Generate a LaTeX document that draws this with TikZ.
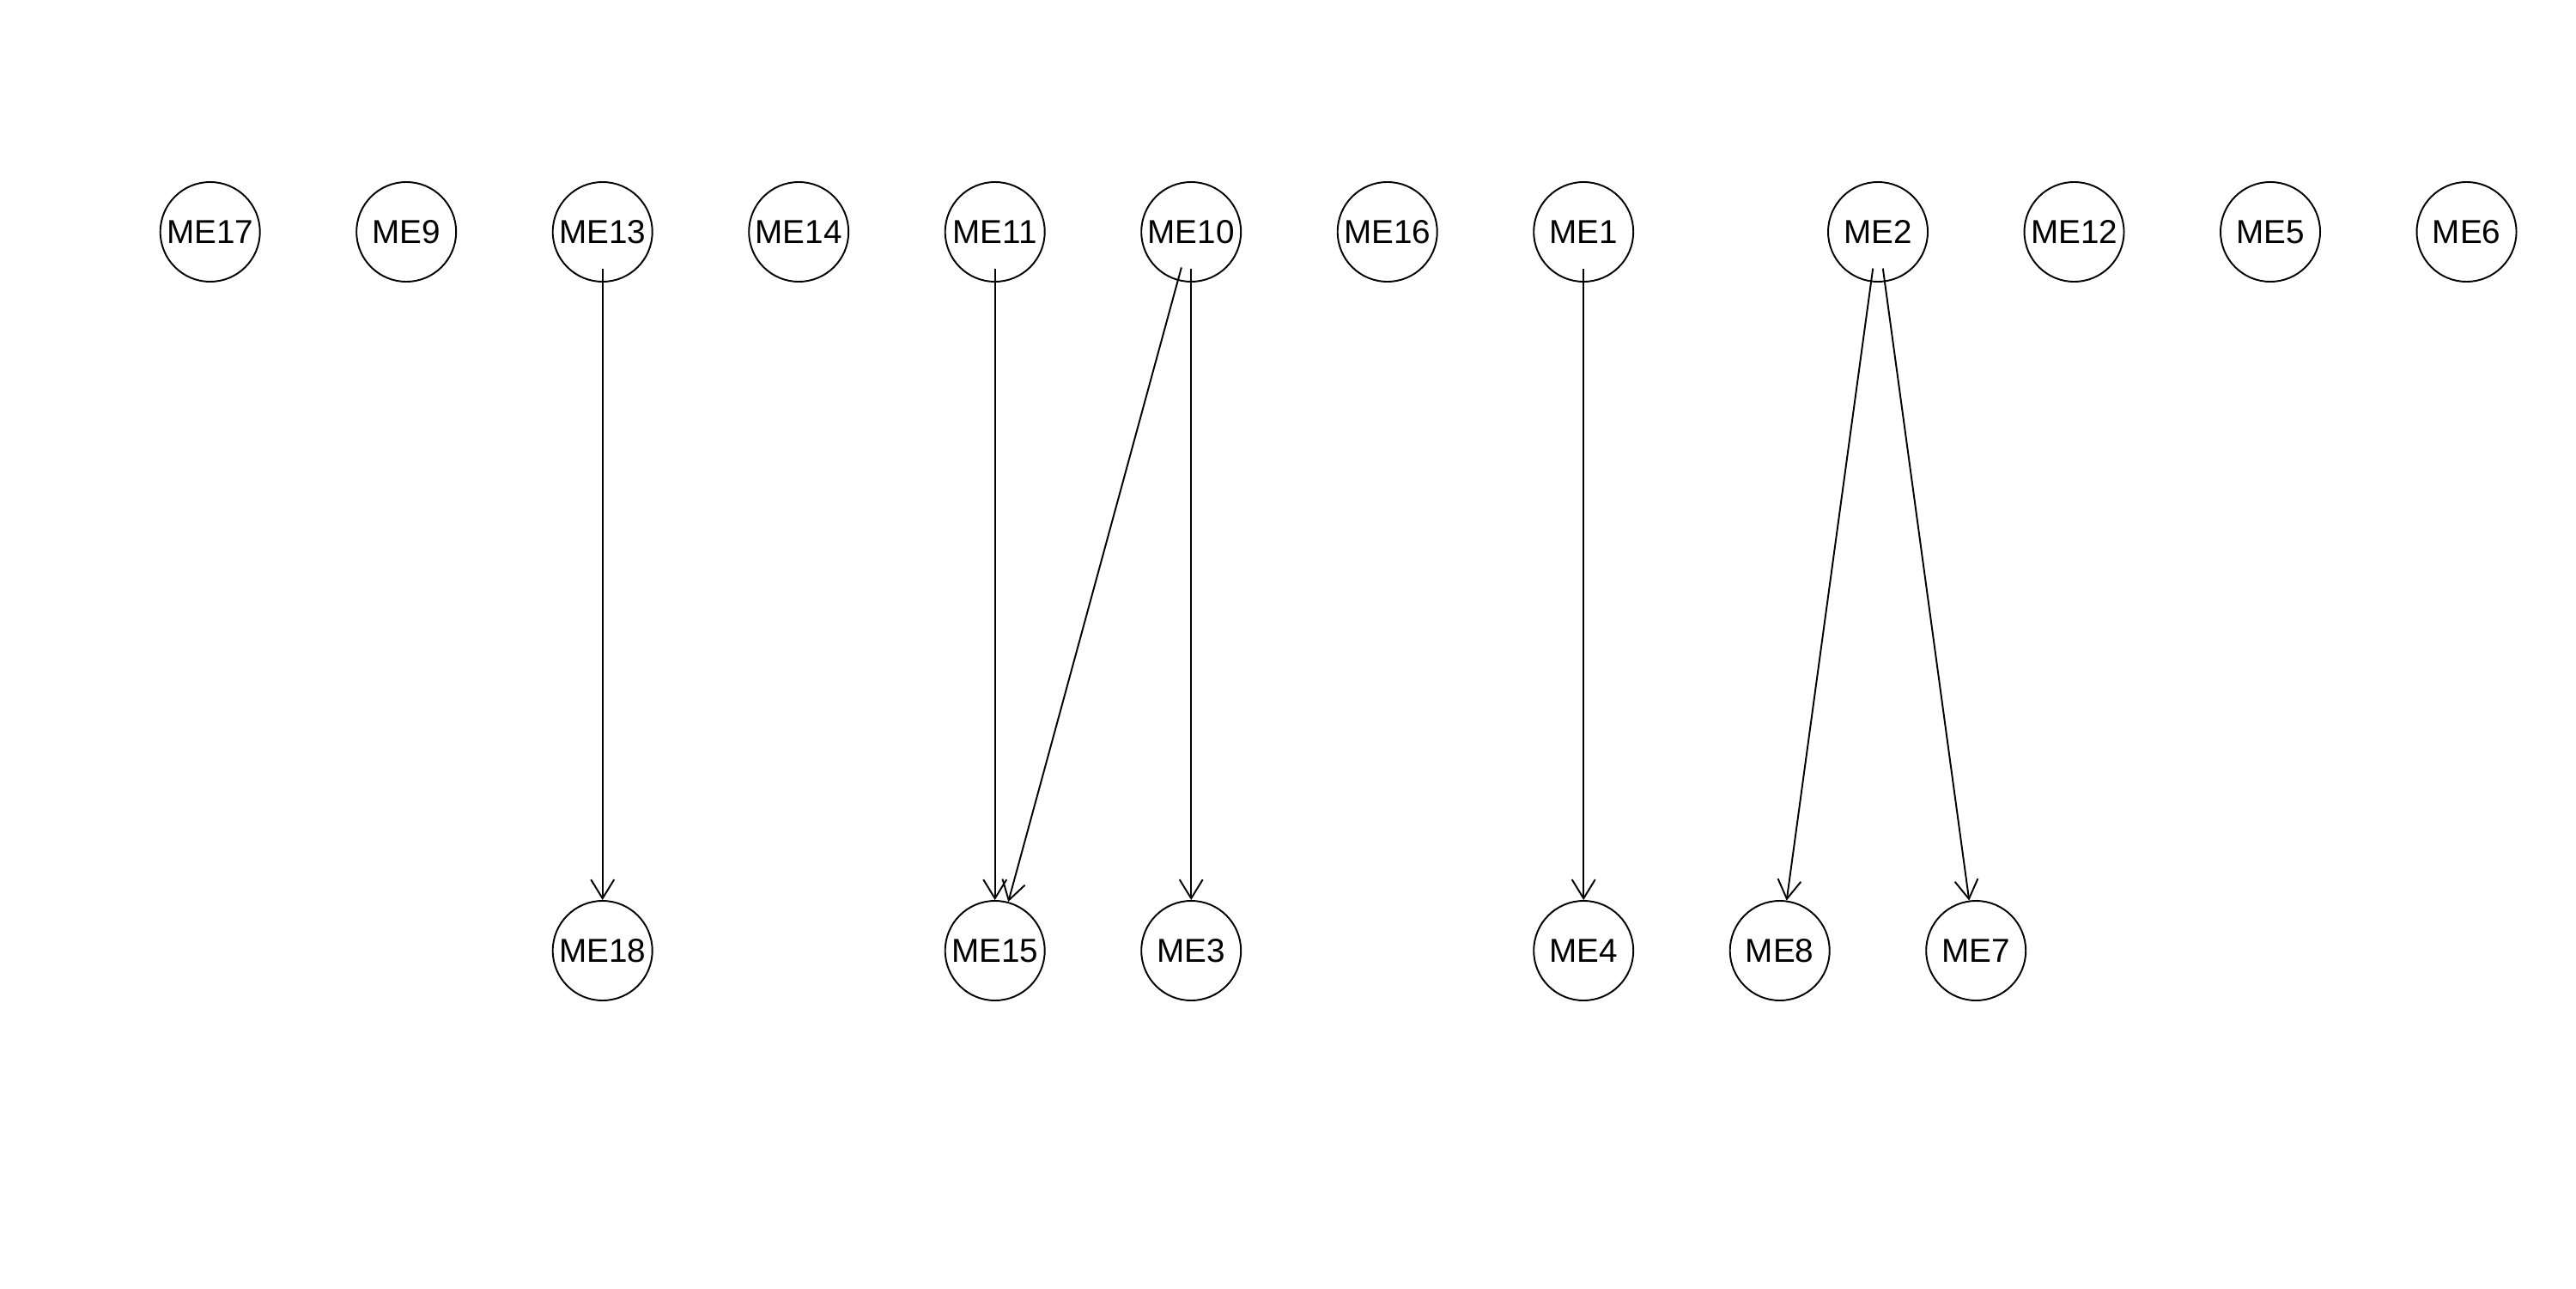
\documentclass[tikz,border=0pt]{standalone}
\usepackage{fontspec}
\setmainfont{Liberation Sans}
\usetikzlibrary{arrows.meta}
\newcommand{\newVertex}[3]{\node[vertex](#1) at (#3){#2};}
\newcommand{\newLink}[2]{\path[link] (#1) edge (#2);}

\begin{document}
\begin{tikzpicture}[
    % Vertex look
    vertex/.style={circle,draw,line width=0.55pt,minimum size=1.16cm,inner sep=0pt,
      font=\fontsize{11}{13}\selectfont},
    % Edge look
    link/.style={-{Straight Barb[length=2.2mm,width=2.7mm]},line width=0.55pt,
      shorten <=-0.16cm}
    ]
    \useasboundingbox (0,0) rectangle (30,15);

    % Upper row
    \newVertex{ME17}{ME17}{2.447,12.30}
    \newVertex{ME9}{ME9}{4.732,12.30}
    \newVertex{ME13}{ME13}{7.017,12.30}
    \newVertex{ME14}{ME14}{9.302,12.30}
    \newVertex{ME11}{ME11}{11.587,12.30}
    \newVertex{ME10}{ME10}{13.872,12.30}
    \newVertex{ME16}{ME16}{16.157,12.30}
    \newVertex{ME1}{ME1}{18.442,12.30}
    \newVertex{ME2}{ME2}{21.87,12.30}
    \newVertex{ME12}{ME12}{24.155,12.30}
    \newVertex{ME5}{ME5}{26.44,12.30}
    \newVertex{ME6}{ME6}{28.725,12.30}

    % Lower row
    \newVertex{ME18}{ME18}{7.017,3.93}
    \newVertex{ME15}{ME15}{11.587,3.93}
    \newVertex{ME3}{ME3}{13.872,3.93}
    \newVertex{ME4}{ME4}{18.442,3.93}
    \newVertex{ME8}{ME8}{20.727,3.93}
    \newVertex{ME7}{ME7}{23.012,3.93}

    \newLink{ME13}{ME18}
    \newLink{ME11}{ME15}
    \newLink{ME10}{ME15}
    \newLink{ME10}{ME3}
    \newLink{ME1}{ME4}
    \newLink{ME2}{ME8}
    \newLink{ME2}{ME7}
\end{tikzpicture}
\end{document}
